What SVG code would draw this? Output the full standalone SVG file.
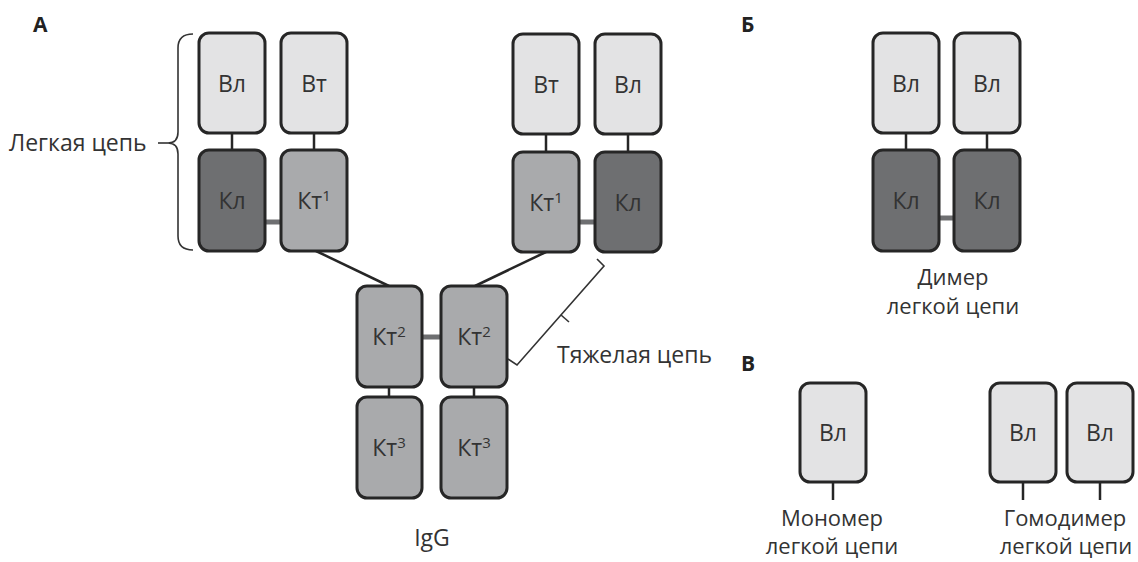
<svg xmlns="http://www.w3.org/2000/svg" width="1138" height="562" viewBox="0 0 1138 562">
<style>
.b{stroke:#262626;stroke-width:3}
.v{fill:#e3e3e4}
.k1{fill:#a9aaac}
.kl{fill:#6e6f71}
.t{font-family:"Open Sans","Noto Sans",sans-serif;font-size:23px;fill:#333;text-anchor:middle}
.c{font-family:"Open Sans","Noto Sans",sans-serif;font-size:22px;fill:#333;text-anchor:middle}
.lab{font-family:"Open Sans","Noto Sans",sans-serif;font-size:23px;fill:#333}
.h{font-family:"Open Sans","Noto Sans",sans-serif;font-size:21px;font-weight:bold;fill:#222}
.ln{stroke:#262626;stroke-width:2.5;fill:none}
.bond{stroke:#6e6f71;stroke-width:5}
.br{stroke:#333;stroke-width:1.6;fill:none}
.sup{font-size:15px}
</style>
<rect width="1138" height="562" fill="#fff"/>
<text class="h" x="33" y="32">А</text>
<text class="h" x="741" y="32">Б</text>
<text class="h" x="741" y="371">В</text>

<g id="connectors">
<line class="ln" x1="232" y1="133" x2="232" y2="150"/>
<line class="ln" x1="314" y1="133" x2="314" y2="150"/>
<line class="ln" x1="546" y1="134" x2="546" y2="152"/>
<line class="ln" x1="628" y1="134" x2="628" y2="152"/>
<line class="bond" x1="265" y1="222" x2="282" y2="222"/>
<line class="bond" x1="579" y1="222" x2="596" y2="222"/>
<line class="ln" x1="316" y1="251" x2="389" y2="286"/>
<line class="ln" x1="546" y1="252" x2="475" y2="286"/>
<line class="bond" x1="422" y1="337" x2="441" y2="337"/>
<line class="ln" x1="389" y1="387" x2="389" y2="397"/>
<line class="ln" x1="474" y1="387" x2="474" y2="397"/>
<line class="ln" x1="906" y1="133" x2="906" y2="150"/>
<line class="ln" x1="987" y1="133" x2="987" y2="150"/>
<line class="bond" x1="939" y1="218" x2="954" y2="218"/>
<line class="ln" x1="833" y1="482" x2="833" y2="500"/>
<line class="ln" x1="1023" y1="482" x2="1023" y2="500"/>
<line class="ln" x1="1100" y1="482" x2="1100" y2="500"/>
</g>

<g id="light-brace">
<path class="br" d="M193,34 Q178,34 178,48 L178,132 Q178,143 168,143 Q178,143 178,154 L178,236 Q178,250 193,250"/>
<line class="br" x1="158" y1="143" x2="168" y2="143"/>
<text class="lab" x="9" y="151">Легкая цепь</text>
</g>
<g id="heavy-brace">
<path class="br" d="M597,259 L604,266 L517,365 L508,359"/>
<line class="br" x1="561" y1="315" x2="569" y2="322"/>
<text class="lab" x="557" y="363">Тяжелая цепь</text>
</g>

<g id="A-VL1"><rect class="b v" x="199" y="33" width="66" height="100" rx="10"/><text class="t" x="232" y="92">Вл</text></g>
<g id="A-VT1"><rect class="b v" x="281" y="33" width="66" height="100" rx="10"/><text class="t" x="314" y="92">Вт</text></g>
<g id="A-KL1"><rect class="b kl" x="199" y="150" width="66" height="101" rx="10"/><text class="t" x="232" y="209">Кл</text></g>
<g id="A-KT1a"><rect class="b k1" x="281" y="150" width="66" height="101" rx="10"/><text class="t" x="314" y="209">Кт<tspan class="sup" dy="-8">1</tspan></text></g>

<g id="A-VT2"><rect class="b v" x="513" y="34" width="66" height="100" rx="10"/><text class="t" x="546" y="93">Вт</text></g>
<g id="A-VL2"><rect class="b v" x="595" y="34" width="66" height="100" rx="10"/><text class="t" x="628" y="93">Вл</text></g>
<g id="A-KT1b"><rect class="b k1" x="513" y="152" width="66" height="100" rx="10"/><text class="t" x="546" y="211">Кт<tspan class="sup" dy="-8">1</tspan></text></g>
<g id="A-KL2"><rect class="b kl" x="595" y="152" width="66" height="100" rx="10"/><text class="t" x="628" y="211">Кл</text></g>

<g id="A-KT2a"><rect class="b k1" x="357" y="286" width="65" height="101" rx="10"/><text class="t" x="389" y="345">Кт<tspan class="sup" dy="-8">2</tspan></text></g>
<g id="A-KT2b"><rect class="b k1" x="441" y="286" width="66" height="101" rx="10"/><text class="t" x="474" y="345">Кт<tspan class="sup" dy="-8">2</tspan></text></g>
<g id="A-KT3a"><rect class="b k1" x="357" y="397" width="65" height="101" rx="10"/><text class="t" x="389" y="456">Кт<tspan class="sup" dy="-8">3</tspan></text></g>
<g id="A-KT3b"><rect class="b k1" x="441" y="397" width="66" height="101" rx="10"/><text class="t" x="474" y="456">Кт<tspan class="sup" dy="-8">3</tspan></text></g>
<text class="t" x="432" y="546">IgG</text>

<g id="B-VL1"><rect class="b v" x="873" y="33" width="66" height="100" rx="10"/><text class="t" x="906" y="92">Вл</text></g>
<g id="B-VL2"><rect class="b v" x="954" y="33" width="66" height="100" rx="10"/><text class="t" x="987" y="92">Вл</text></g>
<g id="B-KL1"><rect class="b kl" x="873" y="150" width="66" height="101" rx="10"/><text class="t" x="906" y="209">Кл</text></g>
<g id="B-KL2"><rect class="b kl" x="954" y="150" width="66" height="101" rx="10"/><text class="t" x="987" y="209">Кл</text></g>
<text class="c" x="953" y="285">Димер</text>
<text class="c" x="953" y="314">легкой цепи</text>

<g id="C-mono"><rect class="b v" x="800" y="383" width="66" height="99" rx="10"/><text class="t" x="833" y="441">Вл</text></g>
<text class="c" x="832" y="526">Мономер</text>
<text class="c" x="832" y="554">легкой цепи</text>
<g id="C-homo1"><rect class="b v" x="990" y="383" width="66" height="99" rx="10"/><text class="t" x="1023" y="441">Вл</text></g>
<g id="C-homo2"><rect class="b v" x="1067" y="383" width="66" height="99" rx="10"/><text class="t" x="1100" y="441">Вл</text></g>
<text class="c" x="1065" y="526">Гомодимер</text>
<text class="c" x="1066" y="554">легкой цепи</text>
</svg>
